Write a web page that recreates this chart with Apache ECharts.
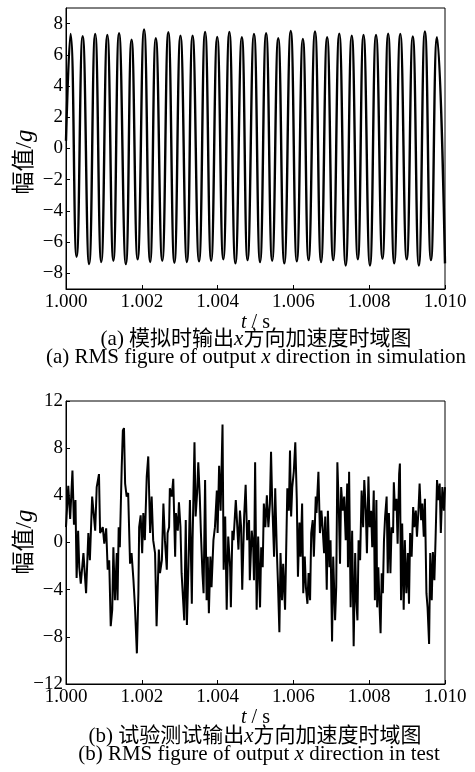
<!DOCTYPE html>
<html>
<head>
<meta charset="utf-8">
<script src="https://cdn.jsdelivr.net/npm/echarts@6/dist/echarts.min.js"></script>
<style>
  html, body { margin: 0; padding: 0; background: #fff; }
  #chart { width: 475px; height: 772px; }
</style>
</head>
<body>
<div id="chart"></div>
<script>
// (a) simulation: peaks and troughs
const simStart = [1.0000, 0.5];
const simPeakT = [1.00012, 1.00044, 1.00077, 1.00109, 1.00140, 1.00173, 1.00206, 1.00237, 1.00270, 1.00302,
  1.00334, 1.00367, 1.00399, 1.00431, 1.00464, 1.00496, 1.00528, 1.00560, 1.00593, 1.00625,
  1.00657, 1.00689, 1.00721, 1.00754, 1.00785, 1.00818, 1.00850, 1.00882, 1.00915, 1.00947, 1.00979];
const simPeakV = [7.34, 7.19, 7.34, 7.27, 7.38, 6.97, 7.62, 7.06, 7.45, 7.23,
  7.23, 7.47, 7.15, 7.47, 7.13, 7.34, 7.38, 7.06, 7.53, 7.02,
  7.49, 7.13, 7.36, 7.23, 7.27, 7.27, 7.36, 7.34, 7.17, 7.49, 7.13];
const simTroughT = [1.00028, 1.00061, 1.00093, 1.00125, 1.00158, 1.00189, 1.00222, 1.00254, 1.00286, 1.00319,
  1.00351, 1.00383, 1.00415, 1.00447, 1.00479, 1.00512, 1.00544, 1.00576, 1.00609, 1.00640,
  1.00673, 1.00705, 1.00738, 1.00770, 1.00802, 1.00835, 1.00866, 1.00899, 1.00931, 1.00963, 1.01000];
const simTroughV = [-6.93, -7.40, -7.27, -7.19, -7.40, -7.10, -7.27, -7.19, -7.32, -7.27,
  -7.23, -7.19, -7.10, -7.36, -7.15, -7.27, -7.19, -7.36, -7.23, -7.15,
  -7.27, -7.15, -7.49, -7.10, -7.49, -7.06, -7.36, -7.10, -7.49, -7.15, -7.36];

// (b) test: traced samples
const testT = [1.00000, 1.00006, 1.00011, 1.00017, 1.00021, 1.00025, 1.00028, 1.00032, 1.00035, 1.00039,
  1.00046, 1.00053, 1.00059, 1.00063, 1.00069, 1.00077, 1.00081, 1.00087, 1.00090, 1.00097,
  1.00101, 1.00106, 1.00110, 1.00114, 1.00118, 1.00122, 1.00125, 1.00129, 1.00134, 1.00136,
  1.00139, 1.00142, 1.00147, 1.00150, 1.00153, 1.00156, 1.00160, 1.00164, 1.00169, 1.00173,
  1.00178, 1.00182, 1.00187, 1.00191, 1.00193, 1.00197, 1.00201, 1.00204, 1.00208, 1.00213,
  1.00217, 1.00222, 1.00226, 1.00230, 1.00235, 1.00239, 1.00245, 1.00248, 1.00253, 1.00257,
  1.00261, 1.00266, 1.00268, 1.00272, 1.00274, 1.00279, 1.00283, 1.00288, 1.00290, 1.00295,
  1.00298, 1.00302, 1.00305, 1.00309, 1.00312, 1.00316, 1.00319, 1.00323, 1.00327, 1.00332,
  1.00334, 1.00339, 1.00342, 1.00346, 1.00349, 1.00353, 1.00356, 1.00360, 1.00363, 1.00367,
  1.00371, 1.00374, 1.00377, 1.00381, 1.00384, 1.00389, 1.00393, 1.00398, 1.00400, 1.00404,
  1.00408, 1.00413, 1.00416, 1.00420, 1.00424, 1.00428, 1.00433, 1.00435, 1.00439, 1.00442,
  1.00448, 1.00451, 1.00455, 1.00459, 1.00462, 1.00465, 1.00470, 1.00474, 1.00478, 1.00483,
  1.00485, 1.00490, 1.00494, 1.00496, 1.00499, 1.00503, 1.00507, 1.00512, 1.00515, 1.00519,
  1.00522, 1.00526, 1.00530, 1.00534, 1.00538, 1.00541, 1.00544, 1.00549, 1.00552, 1.00556,
  1.00559, 1.00563, 1.00566, 1.00570, 1.00573, 1.00578, 1.00580, 1.00584, 1.00588, 1.00591,
  1.00594, 1.00597, 1.00601, 1.00605, 1.00609, 1.00612, 1.00616, 1.00619, 1.00623, 1.00626,
  1.00630, 1.00633, 1.00637, 1.00640, 1.00644, 1.00647, 1.00651, 1.00654, 1.00659, 1.00661,
  1.00666, 1.00670, 1.00674, 1.00677, 1.00681, 1.00684, 1.00688, 1.00691, 1.00695, 1.00698,
  1.00702, 1.00705, 1.00710, 1.00713, 1.00716, 1.00720, 1.00723, 1.00726, 1.00730, 1.00734,
  1.00738, 1.00742, 1.00744, 1.00747, 1.00751, 1.00755, 1.00759, 1.00763, 1.00766, 1.00769,
  1.00772, 1.00776, 1.00780, 1.00784, 1.00787, 1.00791, 1.00794, 1.00798, 1.00801, 1.00805,
  1.00808, 1.00812, 1.00815, 1.00819, 1.00821, 1.00824, 1.00828, 1.00830, 1.00833, 1.00836,
  1.00839, 1.00842, 1.00846, 1.00849, 1.00852, 1.00856, 1.00859, 1.00863, 1.00865, 1.00868,
  1.00872, 1.00875, 1.00879, 1.00881, 1.00884, 1.00887, 1.00891, 1.00894, 1.00898, 1.00902,
  1.00905, 1.00908, 1.00912, 1.00916, 1.00919, 1.00923, 1.00926, 1.00930, 1.00933, 1.00937,
  1.00940, 1.00944, 1.00947, 1.00951, 1.00954, 1.00958, 1.00961, 1.00965, 1.00968, 1.00972,
  1.00975, 1.00979, 1.00982, 1.00986, 1.00989, 1.00993, 1.00997, 1.01000];
const testV = [1.3, 4.8, 2.0, 6.1, 1.5, 3.6, -3.0, 1.0, -2.1, -3.5,
  -0.9, -4.3, 0.8, -1.5, 3.9, 1.0, 4.7, 5.8, 0.8, 1.3,
  -0.1, 1.2, -2.3, -1.5, -7.1, -5.7, -0.4, -4.9, -0.9, -4.9,
  1.3, -0.4, 6.4, 9.5, 9.7, 5.0, 3.9, 4.2, -1.8, -0.9,
  -3.2, -5.5, -9.4, -4.3, 1.3, 2.3, -0.9, 2.5, 0.2, 5.6,
  7.3, 0.8, 3.9, 0.2, -0.9, -7.1, -0.6, -2.6, -1.5, 3.3,
  0.2, -2.3, 0.8, 1.3, 4.6, 3.9, 5.4, -1.2, 2.5, 1.0,
  3.4, 1.3, -2.6, -4.9, -6.6, 1.9, -7.0, -2.1, 3.6, -5.2,
  0.2, 8.5, 2.2, 4.2, 6.8, 3.9, 0.8, -2.6, -4.3, 5.3,
  -4.9, -1.2, -6.0, -1.2, -3.8, 0.2, 1.3, 4.4, 0.8, 6.5,
  2.7, 10.0, -2.3, 2.2, -5.7, 0.5, -2.1, -5.5, 1.0, 0.2,
  3.6, 1.9, -0.6, 2.7, 1.3, -4.0, 2.2, 4.9, 0.2, 1.9,
  -3.2, 1.0, -0.4, -3.2, 6.8, -5.7, 0.5, -5.5, -0.4, -2.1,
  3.3, 1.3, 4.0, 1.3, 3.3, 7.7, 3.6, -1.2, 4.6, -0.4,
  -3.2, -7.6, -0.9, -4.9, -1.8, -5.7, -2.3, 4.6, 2.7, 7.8,
  2.2, 4.7, 6.0, 8.5, 3.6, -2.9, 1.7, -1.2, 3.3, -4.3,
  -1.2, -3.8, -5.2, -2.6, -4.9, 0.8, 1.9, -1.2, 3.9, 2.5,
  6.0, 0.8, 2.7, 1.3, -0.9, 2.2, -4.0, 2.7, -2.1, 0.2,
  -8.4, -1.2, -6.6, -3.8, 6.8, 2.7, -1.8, 4.7, 2.7, 3.9,
  0.2, 5.0, -2.1, 6.0, -5.5, 1.0, -8.8, -0.9, -4.9, -6.6,
  0.2, -1.5, 4.4, 1.3, 5.3, 2.7, -0.9, 5.6, 1.3, 2.7,
  -0.4, 4.4, -4.9, 3.6, -5.5, -2.1, -6.0, -7.7, -2.6, -4.3,
  0.2, 2.2, 3.9, -2.6, 2.5, -2.6, 1.3, 0.8, 5.1, 2.7,
  3.7, -0.1, 5.8, 6.7, -4.9, 1.6, -5.7, 0.2, -4.3, -0.9,
  -5.2, 0.8, -1.2, 3.0, 1.3, 2.7, 0.5, 2.7, 5.0, 1.9,
  3.3, 0.5, 3.7, -4.3, -5.5, -8.6, -0.9, -4.9, -0.8, -3.2,
  0.2, 5.3, 3.6, 5.0, 0.8, 4.7, 2.7, 4.7];

const simYTicks = [-8, -6, -4, -2, 0, 2, 4, 6, 8];

const simData = [simStart];
for (let i = 0; i < simPeakT.length; i++) {
  simData.push([simPeakT[i], simPeakV[i]]);
  simData.push([simTroughT[i], simTroughV[i]]);
}
const testData = testT.map((t, i) => [t, testV[i]]);

const SERIF = '"Liberation Serif", "Times New Roman", serif';
const CJK = '"Liberation Serif", "Noto Sans CJK SC", serif';
const minus = v => String(v).replace('-', '\u2212');
const italic = size => ({ fontStyle: 'italic', fontSize: size, fontFamily: SERIF, fill: '#000', color: '#000' });

const xAxisBase = (gi) => ({
  type: 'value', gridIndex: gi, min: 1.000, max: 1.010, interval: 0.002,
  axisLine: { onZero: false, lineStyle: { color: '#000', width: 1 } },
  axisTick: { inside: true, length: 4, lineStyle: { color: '#000' } },
  axisLabel: { color: '#000', fontFamily: SERIF, fontSize: 19, margin: 4,
    formatter: v => v.toFixed(3) },
  splitLine: { show: false },
  name: '{i|t} / s', nameLocation: 'middle', nameGap: 22,
  nameTextStyle: { color: '#000', fontFamily: SERIF, fontSize: 20, rich: { i: italic(20) } }
});

const yAxisBase = (gi) => ({
  type: 'value', gridIndex: gi,
  axisLine: { onZero: false, lineStyle: { color: '#000' } },
  axisTick: { inside: true, length: 4, lineStyle: { color: '#000' } },
  axisLabel: { color: '#000', fontFamily: SERIF, fontSize: 19, margin: 3, formatter: minus },
  splitLine: { show: false }
});

const yTop = yAxisBase(0);
Object.assign(yTop, { min: -9, max: 9, interval: 1 });
yTop.axisTick.customValues = simYTicks;
yTop.axisLabel.customValues = simYTicks;
const yBottom = yAxisBase(1);
Object.assign(yBottom, { min: -12, max: 12, interval: 4 });

const captionText = (x, y, text, size, font) => ({
  type: 'text', x: x, y: y,
  style: { text: text, textAlign: 'center', textVerticalAlign: 'middle',
    font: size + 'px ' + font, fill: '#000', rich: { x: italic(size) } }
});
const yName = (y) => ({
  type: 'text', x: 25, y: y, rotation: Math.PI / 2,
  style: { text: '幅值/{x|g}', textAlign: 'center', textVerticalAlign: 'middle',
    font: '23px ' + CJK, fill: '#000', rich: { x: italic(25) } }
});

const chart = echarts.init(document.getElementById('chart'));
chart.setOption({
  animation: false,
  backgroundColor: '#fff',
  grid: [
    { left: 66, right: 30, top: 8, height: 281, show: true, borderColor: '#000', borderWidth: 1 },
    { left: 66, right: 30, top: 401, height: 283, show: true, borderColor: '#000', borderWidth: 1 }
  ],
  xAxis: [xAxisBase(0), xAxisBase(1)],
  yAxis: [yTop, yBottom],
  series: [
    {
      type: 'line', xAxisIndex: 0, yAxisIndex: 0, data: simData,
      smooth: 0.5, showSymbol: false, lineStyle: { color: '#000', width: 2.4 }
    },
    {
      type: 'line', xAxisIndex: 1, yAxisIndex: 1, data: testData,
      showSymbol: false, lineStyle: { color: '#000', width: 2 }
    }
  ],
  graphic: [
    yName(162),
    yName(542),
    captionText(256, 339, '(a) 模拟时输出{x|x}方向加速度时域图', 21, CJK),
    captionText(256, 357, '(a) RMS figure of output {x|x} direction in simulation', 21, SERIF),
    captionText(255, 736, '(b) 试验测试输出{x|x}方向加速度时域图', 21, CJK),
    captionText(259, 754, '(b) RMS figure of output {x|x} direction in test', 21, SERIF)
  ]
});
</script>
</body>
</html>
